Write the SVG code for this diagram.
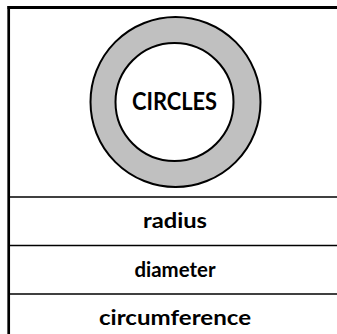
<svg xmlns="http://www.w3.org/2000/svg" width="337" height="334" viewBox="0 0 337 334">
<style>
.t{font-family:Lato,"Liberation Sans",Arial,sans-serif;font-weight:bold;fill:#000;text-anchor:middle}
.div{stroke:#000;stroke-width:1.5}
</style>
<rect width="337" height="334" fill="#fff"/>
<g id="frame">
<line x1="7.5" y1="7.5" x2="337" y2="7.5" stroke="#000" stroke-width="3"/>
<line x1="8.7" y1="6" x2="8.7" y2="334" stroke="#000" stroke-width="2.7"/>
</g>
<g id="connectors">
<line class="div" x1="8" y1="197" x2="337" y2="197"/>
<line class="div" x1="8" y1="245.5" x2="337" y2="245.5"/>
<line class="div" x1="8" y1="294" x2="337" y2="294"/>
</g>
<g id="circles">
<circle cx="175.5" cy="102" r="85" fill="#c0c0c0" stroke="#000" stroke-width="2"/>
<circle cx="174.5" cy="102" r="59" fill="#fff" stroke="#000" stroke-width="2"/>
<text class="t" x="174.5" y="110" font-size="24" textLength="85" lengthAdjust="spacingAndGlyphs">CIRCLES</text>
</g>
<g id="radius"><text class="t" x="175" y="228" font-size="20.5" textLength="64" lengthAdjust="spacingAndGlyphs">radius</text></g>
<g id="diameter"><text class="t" x="175" y="276.5" font-size="20.5" textLength="81" lengthAdjust="spacingAndGlyphs">diameter</text></g>
<g id="circumference"><text class="t" x="175" y="325" font-size="20.5" textLength="152" lengthAdjust="spacingAndGlyphs">circumference</text></g>
</svg>
